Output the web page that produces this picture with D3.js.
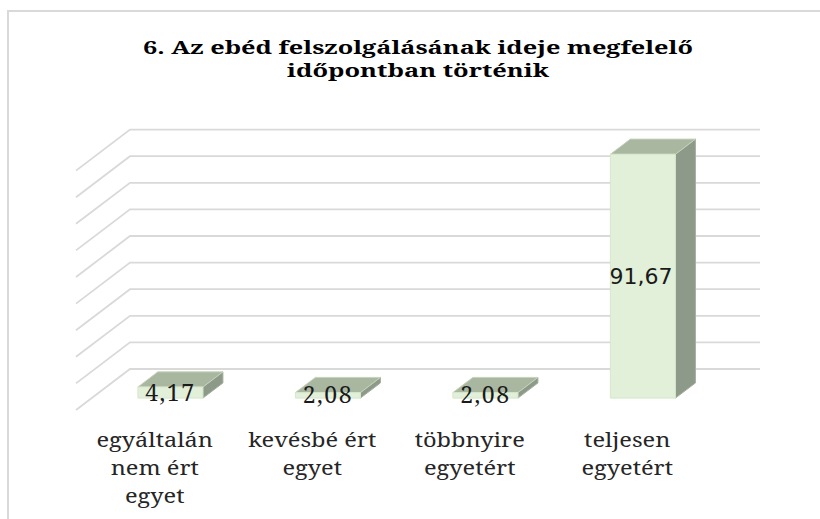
<!DOCTYPE html>
<html>
<head>
<meta charset="utf-8">
<script src="https://cdn.jsdelivr.net/npm/d3@7"></script>
<style>
  html, body { margin: 0; padding: 0; background: #fff; }
  svg { display: block; }
</style>
</head>
<body>
<svg id="chart" width="820" height="519"></svg>
<script>
const categories = [
  ["egyáltalán", "nem ért", "egyet"],
  ["kevésbé ért", "egyet"],
  ["többnyire", "egyetért"],
  ["teljesen", "egyetért"]
];
const values = [4.17, 2.08, 2.08, 91.67];
const valueLabels = ["4,17", "2,08", "2,08", "91,67"];
const gridTicks = [0, 10, 20, 30, 40, 50, 60, 70, 80, 90];
const titleLines = ["6. Az ebéd felszolgálásának ideje megfelelő", "időpontban történik"];

const SERIF = "'Noto Serif', 'DejaVu Serif', serif";
const svg = d3.select("#chart");

// chart area border
svg.append("rect")
  .attr("x", 8).attr("y", 11).attr("width", 830).attr("height", 530)
  .attr("fill", "#fff").attr("stroke", "#d9d9d9").attr("stroke-width", 2);

// title
const titleW = [550, 262];
svg.append("g").selectAll("text").data(titleLines).join("text")
  .attr("x", 418)
  .attr("y", (d, i) => 53.5 + i * 23)
  .attr("text-anchor", "middle")
  .attr("font-family", SERIF)
  .attr("font-weight", "bold")
  .attr("font-size", 17.5)
  .attr("fill", "#000")
  .attr("textLength", (d, i) => titleW[i])
  .attr("lengthAdjust", "spacingAndGlyphs")
  .text(d => d);

// 3D geometry
const front = { x: 76, y: 410 };      // front-left corner of floor
const depth = { x: 54, y: -41 };      // vector from front to back wall
const floorW = 630;
const d0 = 0.29, d1 = 0.66;           // bar depth span

const x = d3.scaleBand()
  .domain(d3.range(categories.length))
  .range([0, floorW])
  .paddingInner(0.587)
  .paddingOuter(0.2935);

const y = d3.scaleLinear().domain([0, 100]).range([0, 266]);

// gridlines: back wall + side wall
const grid = svg.append("g").attr("stroke", "#d9d9d9").attr("stroke-width", 1.8).attr("fill", "none");
gridTicks.forEach(v => {
  const by = front.y + depth.y - y(v);
  const bx = front.x + depth.x;
  grid.append("path")
    .attr("d", `M${front.x},${front.y - y(v)}L${bx},${by}L${bx + floorW},${by}`);
});

// bars
const bars = svg.append("g");
values.forEach((v, i) => {
  const fx = front.x + d0 * depth.x + x(i);
  const fy = front.y + d0 * depth.y;
  const w = x.bandwidth();
  const h = y(v);
  const dx = (d1 - d0) * depth.x, dy = (d1 - d0) * depth.y;
  const g = bars.append("g").attr("stroke-width", 1).attr("stroke-linejoin", "round");
  // side face
  g.append("path")
    .attr("d", `M${fx + w},${fy}L${fx + w + dx},${fy + dy}L${fx + w + dx},${fy - h + dy}L${fx + w},${fy - h}Z`)
    .attr("fill", "#8e9a89").attr("stroke", "#a3b09c");
  // top face
  g.append("path")
    .attr("d", `M${fx},${fy - h}L${fx + dx},${fy - h + dy}L${fx + w + dx},${fy - h + dy}L${fx + w},${fy - h}Z`)
    .attr("fill", "#a9b6a0").attr("stroke", "#c4d3bb");
  // front face
  g.append("rect")
    .attr("x", fx).attr("y", fy - h).attr("width", w).attr("height", h)
    .attr("fill", "#e2efd9").attr("stroke", "#d6e6cb");
});

// value labels
values.forEach((v, i) => {
  const fx = front.x + d0 * depth.x + x(i) + x.bandwidth() / 2;
  const fy = front.y + d0 * depth.y - y(v) / 2;
  const sans = i === 3;
  svg.append("text")
    .attr("x", sans ? fx - 2 : fx)
    .attr("y", fy + 8)
    .attr("text-anchor", "middle")
    .attr("font-family", sans ? "'DejaVu Sans', sans-serif" : SERIF)
    .attr("font-size", sans ? 22 : 23)
    .attr("letter-spacing", sans ? 0 : 1.5)
    .attr("fill", "#1a1a1a")
    .text(valueLabels[i]);
});

// category labels (one text per line, slightly widened like the original face)
const cat = svg.append("g")
  .attr("font-family", SERIF)
  .attr("font-size", 20.5)
  .attr("fill", "#262626")
  .attr("text-anchor", "middle");
categories.forEach((lines, i) => {
  const cx = front.x + x(i) + x.bandwidth() / 2;
  lines.forEach((ln, j) => {
    cat.append("g")
      .attr("transform", `translate(${cx},${447 + j * 28}) scale(1.15,1)`)
      .append("text").attr("x", 0).attr("y", 0).text(ln);
  });
});
</script>
</body>
</html>
